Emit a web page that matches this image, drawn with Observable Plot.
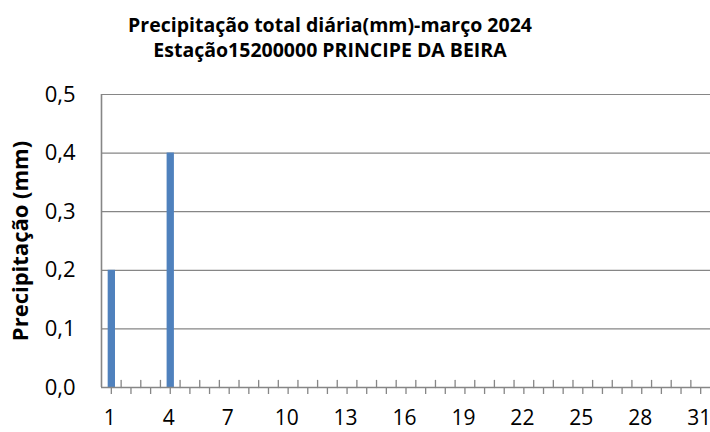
<!DOCTYPE html>
<html>
<head>
<meta charset="utf-8">
<script src="https://cdn.jsdelivr.net/npm/d3@7"></script>
<script src="https://cdn.jsdelivr.net/npm/@observablehq/plot@0.6"></script>
<style>
  body { margin: 0; background: #fff; }
</style>
</head>
<body>
<div id="chart"></div>
<script>
const titleLines = ["Precipitação total diária(mm)-março 2024", "Estação15200000 PRINCIPE DA BEIRA"];
const yLabel = "Precipitação (mm)";
const days = d3.range(1, 32);
const precip = [0.2, 0, 0, 0.4, 0, 0, 0, 0, 0, 0, 0, 0, 0, 0, 0, 0, 0, 0, 0, 0, 0, 0, 0, 0, 0, 0, 0, 0, 0, 0, 0];
const yTicks = [0, 0.1, 0.2, 0.3, 0.4, 0.5];
const labelDays = [1, 4, 7, 10, 13, 16, 19, 22, 25, 28, 31];
const boundaries = d3.range(1.5, 31.5, 1);

const data = days.map((d, i) => ({day: d, value: precip[i]}));
const gray = "#868686";
const tickUp = {draw(context, l) { context.moveTo(0, 0); context.lineTo(0, -l); }};

const chart = Plot.plot({
  width: 710,
  height: 432,
  marginTop: 94,
  marginBottom: 45,
  marginLeft: 101,
  marginRight: 0,
  style: {fontFamily: "'Open Sans', sans-serif", fontSize: "22px", color: "#000", background: "#fff"},
  x: {domain: [0.5, 31.5], label: null},
  y: {domain: [0, 0.5], label: null},
  marks: [
    Plot.ruleY(yTicks.slice(1), {stroke: gray, strokeWidth: 1.2}),
    Plot.axisY({ticks: yTicks, tickSize: 0, tickPadding: 26, tickFormat: d => d.toFixed(1).replace(".", ","), fontSize: 22}),
    Plot.axisX({ticks: days, tickSize: 7, stroke: gray, strokeWidth: 1.3, text: null}),
    Plot.axisX({ticks: labelDays, tickSize: 0, tickPadding: 23, dx: -1.5, fontSize: 21}),
    Plot.vector(boundaries, {x: d => d, y: 0, length: 7, anchor: "start", shape: tickUp, stroke: gray, strokeWidth: 1.3}),
    Plot.ruleX(data.filter(d => d.value > 0), {x: "day", y1: 0, y2: "value", stroke: "#4F81BD", strokeWidth: 7.3}),
    Plot.ruleY([0], {stroke: gray, strokeWidth: 1.6}),
    Plot.ruleX([0.5], {stroke: gray, strokeWidth: 1.6}),
    Plot.text([yLabel], {frameAnchor: "left", textAnchor: "middle", rotate: -90, dx: -81, fontWeight: "bold", fontSize: 22}),
    Plot.text([titleLines.join("\n")], {frameAnchor: "top", lineAnchor: "top", textAnchor: "middle", dx: -76, dy: -81, lineHeight: 1.3, fontWeight: "bold", fontSize: 19.5})
  ]
});
document.getElementById("chart").appendChild(chart);
</script>
</body>
</html>
